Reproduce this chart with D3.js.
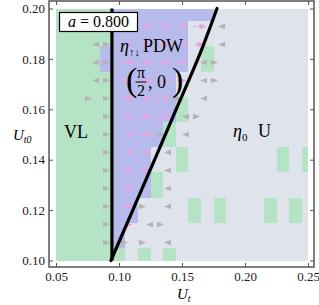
<!DOCTYPE html>
<html>
<head>
<meta charset="utf-8">
<script src="https://cdn.jsdelivr.net/npm/d3@7"></script>
<style>
  body { margin: 0; background: #fff; }
  text { font-family: "Liberation Serif", "Times New Roman", serif; }
</style>
</head>
<body>
<svg id="chart" width="319" height="305"></svg>
<script>
// grid of phase cells (Ut along x, Ut0 along y, top row first)
var cellUt = [0.05, 0.06, 0.07, 0.08, 0.09, 0.10, 0.11, 0.12, 0.13, 0.14, 0.15,
              0.16, 0.17, 0.18, 0.19, 0.20, 0.21, 0.22, 0.23, 0.24, 0.25];
var cellUt0 = [0.20, 0.19, 0.18, 0.17, 0.16, 0.15, 0.14, 0.13, 0.12, 0.11, 0.10];
// G = VL, B = PDW, U = uniform
var phaseRows = [
  "GGGGGBBBBBBBBUUUUUUUU",
  "GGGGGBBBBBBUUUUUUUUUU",
  "GGGGBBBBBBBUGUUUUUUUU",
  "GGGGGBBBBBUUUUUUUUUUU",
  "GGGGGBBBBBGUUUUUUUUUU",
  "GGGGGBBBBGUUUUUUUUUUU",
  "GGGGGBBBUUGUUUUUUUGUG",
  "GGGGGBBBGUUUUUUUUUUUU",
  "GGGGGBBUUUUGUGUUUGUGU",
  "GGGGGBUUUUUUUUUUUUUUU",
  "GGGGGGUGUGUUUUUUUUUUU"
];

// flow arrows: P = long pink, p = short pink, > / < = grey heads
var arrowUt = [0.0643, 0.0786, 0.0929, 0.1071, 0.1214, 0.1357, 0.1500,
               0.1643, 0.1786, 0.1929, 0.2071, 0.2214, 0.2357];
var arrowUt0 = [0.1929, 0.1857, 0.1786, 0.1714, 0.1643, 0.1571, 0.1500,
                0.1429, 0.1357, 0.1286, 0.1214, 0.1143, 0.1071];
var arrowRows = [
  "...PPPPP<....",
  ".<>PPPPp<....",
  ".<>PPPP<>....",
  ".<>PPPp<>....",
  ".>>PPP><.....",
  "..>PPP<>.....",
  "..>PP><......",
  "..>PP<.......",
  "..>Pp<.......",
  "..>P.<.......",
  "..>P><.......",
  "..>p<>.......",
  "..>>><......."
];

// phase boundaries
var vlLine = [[0.0944, 0.100], [0.0944, 0.200]];
var uLine = [[0.0936, 0.1000], [0.1127, 0.1220], [0.1310, 0.1431],
             [0.1484, 0.1637], [0.1643, 0.1815], [0.1778, 0.2000]];

var xTicks = [0.05, 0.10, 0.15, 0.20, 0.25];
var yTicks = [0.10, 0.12, 0.14, 0.16, 0.18, 0.20];

var svg = d3.select("#chart");
var frame = { left: 49, right: 314, top: 1, bottom: 267 };
var x = d3.scaleLinear().domain([0.05, 0.25]).range([56, 308]);
var y = d3.scaleLinear().domain([0.10, 0.20]).range([260.5, 8.5]);

var phaseColor = { G: "#b5e3c6", B: "#b7bbeb", U: "#dfe3ec" };
var half = 0.005;

var cells = [];
phaseRows.forEach(function (row, k) {
  row.split("").forEach(function (c, i) {
    cells.push({ ut: cellUt[i], ut0: cellUt0[k], phase: c });
  });
});

svg.append("g").selectAll("rect").data(cells).enter().append("rect")
  .attr("x", d => x(Math.max(0.05, d.ut - half)))
  .attr("width", d => x(Math.min(0.25, d.ut + half)) - x(Math.max(0.05, d.ut - half)))
  .attr("y", d => y(Math.min(0.20, d.ut0 + half)))
  .attr("height", d => y(Math.max(0.10, d.ut0 - half)) - y(Math.min(0.20, d.ut0 + half)))
  .attr("fill", d => phaseColor[d.phase])
  .attr("shape-rendering", "crispEdges");

// arrows
var arrows = [];
arrowRows.forEach(function (row, n) {
  row.split("").forEach(function (c, m) {
    if (c !== ".") arrows.push({ ut: arrowUt[m], ut0: arrowUt0[n], kind: c });
  });
});

var pink = "#e6a3dc", grey = "#b3b3b6";
var ag = svg.append("g");
arrows.forEach(function (d) {
  var dir = d.kind === "<" ? -1 : 1;
  var len = d.kind === "P" ? 13 : d.kind === "p" ? 9 : 0;
  var col = (d.kind === "P" || d.kind === "p") ? pink : grey;
  var cx = x(d.ut), cy = y(d.ut0);
  var tip = cx + dir * len / 2, tail = cx - dir * len / 2;
  if (len > 7) {
    ag.append("line")
      .attr("x1", tail).attr("y1", cy)
      .attr("x2", tip - dir * 5).attr("y2", cy)
      .attr("stroke", col).attr("stroke-width", 1.4)
      .attr("stroke-dasharray", "3,1.5");
  }
  ag.append("path")
    .attr("d", "M" + tip + "," + cy + "L" + (tip - dir * 7) + "," + (cy - 2.8) +
               "L" + (tip - dir * 7) + "," + (cy + 2.8) + "Z")
    .attr("fill", col);
});

// boundary lines
var line = d3.line().x(d => x(d[0])).y(d => y(d[1]));
svg.append("path").datum(vlLine).attr("d", line)
  .attr("fill", "none").attr("stroke", "#000").attr("stroke-width", 3.2);
svg.append("path").datum(uLine).attr("d", line.curve(d3.curveBasis))
  .attr("fill", "none").attr("stroke", "#000").attr("stroke-width", 3.2)
  .attr("stroke-linecap", "round");

// frame and ticks
svg.append("rect")
  .attr("x", frame.left).attr("y", frame.top)
  .attr("width", frame.right - frame.left).attr("height", frame.bottom - frame.top)
  .attr("fill", "none").attr("stroke", "#555").attr("stroke-width", 1.5);

var fmt = d3.format(".2f");
function styleAxis(g) {
  g.select(".domain").remove();
  g.selectAll(".tick line").attr("stroke", "#555");
  g.selectAll("text").attr("font-size", 13).attr("fill", "#222")
    .attr("font-family", "Liberation Serif, serif");
}
svg.append("g").attr("transform", "translate(" + frame.left + ",0)")
  .call(d3.axisLeft(y).tickValues(yTicks).tickSize(-4).tickPadding(4).tickFormat(fmt))
  .call(styleAxis);
svg.append("g").attr("transform", "translate(0," + frame.bottom + ")")
  .call(d3.axisBottom(x).tickValues(xTicks).tickSize(-4).tickPadding(5).tickFormat(fmt))
  .call(styleAxis);
svg.append("g").attr("transform", "translate(0," + frame.top + ")")
  .call(d3.axisTop(x).tickValues(xTicks).tickSize(-4).tickFormat(""))
  .call(styleAxis);
svg.append("g").attr("transform", "translate(" + frame.right + ",0)")
  .call(d3.axisRight(y).tickValues(yTicks).tickSize(-4).tickFormat(""))
  .call(styleAxis);

// axis labels
var yl = svg.append("text").attr("x", 13).attr("y", 140).attr("font-size", 15);
yl.append("tspan").attr("font-style", "italic").text("U");
yl.append("tspan").attr("font-style", "italic").attr("font-size", 10).attr("dy", 3).text("t0");
var xl = svg.append("text").attr("x", 177).attr("y", 299).attr("font-size", 15);
xl.append("tspan").attr("font-style", "italic").text("U");
xl.append("tspan").attr("font-style", "italic").attr("font-size", 10).attr("dy", 3).text("t");

// annotations
svg.append("rect").attr("x", 59.5).attr("y", 12.5).attr("width", 78).attr("height", 19)
  .attr("fill", "#fff").attr("stroke", "#000").attr("stroke-width", 1.2);
var at = svg.append("text").attr("x", 98.5).attr("y", 27).attr("font-size", 16)
  .attr("text-anchor", "middle");
at.append("tspan").attr("font-style", "italic").text("a");
at.append("tspan").text(" = 0.800");

svg.append("text").attr("x", 64).attr("y", 138).attr("font-size", 18).text("VL");

var pdw = svg.append("text").attr("x", 120).attr("y", 52).attr("font-size", 18);
pdw.append("tspan").attr("font-style", "italic").text("η");
pdw.append("tspan").attr("font-size", 11).attr("dy", 4).text("↑↓");
pdw.append("tspan").attr("x", 143).attr("dy", -4).text("PDW");

svg.append("text").attr("x", 126).attr("y", 90.5).attr("font-size", 34).text("(");
svg.append("text").attr("x", 141).attr("y", 78).attr("font-size", 16)
  .attr("text-anchor", "middle").text("π");
svg.append("line").attr("x1", 135.5).attr("x2", 146.5).attr("y1", 82).attr("y2", 82)
  .attr("stroke", "#000").attr("stroke-width", 1);
svg.append("text").attr("x", 141).attr("y", 96).attr("font-size", 16)
  .attr("text-anchor", "middle").text("2");
svg.append("text").attr("x", 148).attr("y", 88).attr("font-size", 18).text(", 0");
svg.append("text").attr("x", 172).attr("y", 90.5).attr("font-size", 34).text(")");

var u = svg.append("text").attr("x", 233).attr("y", 137).attr("font-size", 18);
u.append("tspan").attr("font-style", "italic").text("η");
u.append("tspan").attr("font-size", 11).attr("dy", 4).text("0");
u.append("tspan").attr("x", 258).attr("dy", -4).text("U");
</script>
</body>
</html>
